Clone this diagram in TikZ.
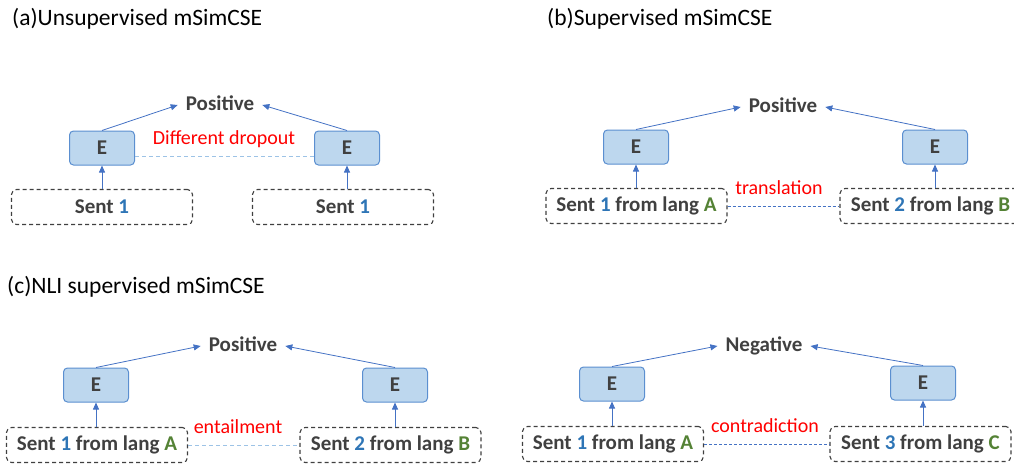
\documentclass[tikz,border=0pt]{standalone}
\usepackage{fontspec}
\setmainfont{Carlito}
\usetikzlibrary{arrows.meta}

\definecolor{txtgray}{HTML}{404040}
\definecolor{numblue}{HTML}{2E75B6}
\definecolor{letgreen}{HTML}{548235}
\definecolor{encfill}{HTML}{BDD7EE}
\definecolor{encdraw}{HTML}{5B8FD0}
\definecolor{arrblue}{HTML}{4472C4}
\definecolor{dropblue}{HTML}{9DC3E6}

\newcommand{\numtag}[1]{\textcolor{numblue}{#1}}
\newcommand{\langtag}[1]{\textcolor{letgreen}{#1}}

\tikzset{
  title/.style={anchor=base west, inner sep=0pt, font=\fontsize{23.5}{28}\selectfont, text=black},
  enc/.style={draw=encdraw, fill=encfill, line width=1pt, rounded corners=4pt,
    minimum width=65pt, minimum height=34pt, inner sep=0pt,
    font=\fontsize{21}{25}\selectfont\bfseries, text=txtgray},
  sentbox/.style={draw=txtgray, dashed, dash pattern=on 4pt off 3pt, line width=1.1pt,
    rounded corners=5pt, minimum width=181pt, minimum height=35pt, inner sep=0pt,
    font=\fontsize{21}{25}\selectfont\bfseries, text=txtgray},
  outlabel/.style={inner sep=8pt, font=\fontsize{21}{25}\selectfont\bfseries, text=txtgray,
    text height=14pt, text depth=3pt},
  rel/.style={inner sep=0pt, font=\fontsize{20}{24}\selectfont, text=red,
    text height=13pt, text depth=4pt},
  arr/.style={draw=arrblue, line width=0.8pt, -{Triangle[length=7pt,width=6pt]}},
  pairline/.style={draw=arrblue, line width=0.6pt, dash pattern=on 3pt off 2pt},
  dropline/.style={draw=dropblue, line width=1pt, dash pattern=on 4pt off 3pt},
}

\begin{document}
\begin{tikzpicture}[x=1pt, y=-1pt]
\useasboundingbox (0,0) rectangle (1014,463);

% (a) unsupervised
\node[title] (ta) at (12,25) {(a)Unsupervised mSimCSE};
\node[outlabel] (pa) at (220,105) {Positive};
\node[enc] (ea1) at (102,148) {E};
\node[enc] (ea2) at (347,148) {E};
\node[sentbox] (sa1) at (102,207) {Sent \numtag{1}};
\node[sentbox] (sa2) at (343,207) {Sent \numtag{1}};
\node[rel] (ra) at (224,140) {Different dropout};
\draw[arr] (ea1.south |- sa1.north) -- (ea1.south);
\draw[arr] (ea2.south |- sa2.north) -- (ea2.south);
\draw[arr] (ea1.north) -- (pa.west);
\draw[arr] (ea2.north) -- (pa.east);
\draw[dropline] ([yshift=-8pt]ea1.east) -- ([yshift=-8pt]ea2.west);

% (b) supervised
\node[title] (tb) at (547,25) {(b)Supervised mSimCSE};
\node[outlabel] (pb) at (783,107) {Positive};
\node[enc] (eb1) at (636,147) {E};
\node[enc] (eb2) at (935,147) {E};
\node[sentbox] (sb1) at (636.5,206) {Sent \numtag{1} from lang \langtag{A}};
\node[sentbox] (sb2) at (930.5,206) {Sent \numtag{2} from lang \langtag{B}};
\node[rel] (rb) at (779,190) {translation};
\draw[arr] (eb1.south |- sb1.north) -- (eb1.south);
\draw[arr] (eb2.south |- sb2.north) -- (eb2.south);
\draw[arr] (eb1.north) -- (pb.west);
\draw[arr] (eb2.north) -- (pb.east);
\draw[pairline] (sb1.east) -- (sb2.west);

% (c) NLI supervised, entailment pair
\node[title] (tc) at (7,293) {(c)NLI supervised mSimCSE};
\node[outlabel] (pc) at (243,346) {Positive};
\node[enc] (ec1) at (96,385) {E};
\node[enc] (ec2) at (395,385) {E};
\node[sentbox] (sc1) at (97,445) {Sent \numtag{1} from lang \langtag{A}};
\node[sentbox] (sc2) at (390.5,445) {Sent \numtag{2} from lang \langtag{B}};
\node[rel] (rc) at (238,429) {entailment};
\draw[arr] (ec1.south |- sc1.north) -- (ec1.south);
\draw[arr] (ec2.south |- sc2.north) -- (ec2.south);
\draw[arr] (ec1.north) -- (pc.west);
\draw[arr] (ec2.north) -- (pc.east);
\draw[dropline] (sc1.east) -- (sc2.west);

% (c) NLI supervised, contradiction pair
\node[outlabel] (pd) at (764,346) {Negative};
\node[enc] (ed1) at (612,384) {E};
\node[enc] (ed2) at (923,383) {E};
\node[sentbox] (sd1) at (613,444) {Sent \numtag{1} from lang \langtag{A}};
\node[sentbox] (sd2) at (920.5,444) {Sent \numtag{3} from lang \langtag{C}};
\node[rel] (rd) at (765,428) {contradiction};
\draw[arr] (ed1.south |- sd1.north) -- (ed1.south);
\draw[arr] (ed2.south |- sd2.north) -- (ed2.south);
\draw[arr] (ed1.north) -- (pd.west);
\draw[arr] (ed2.north) -- (pd.east);
\draw[pairline] (sd1.east) -- (sd2.west);
\end{tikzpicture}
\end{document}
